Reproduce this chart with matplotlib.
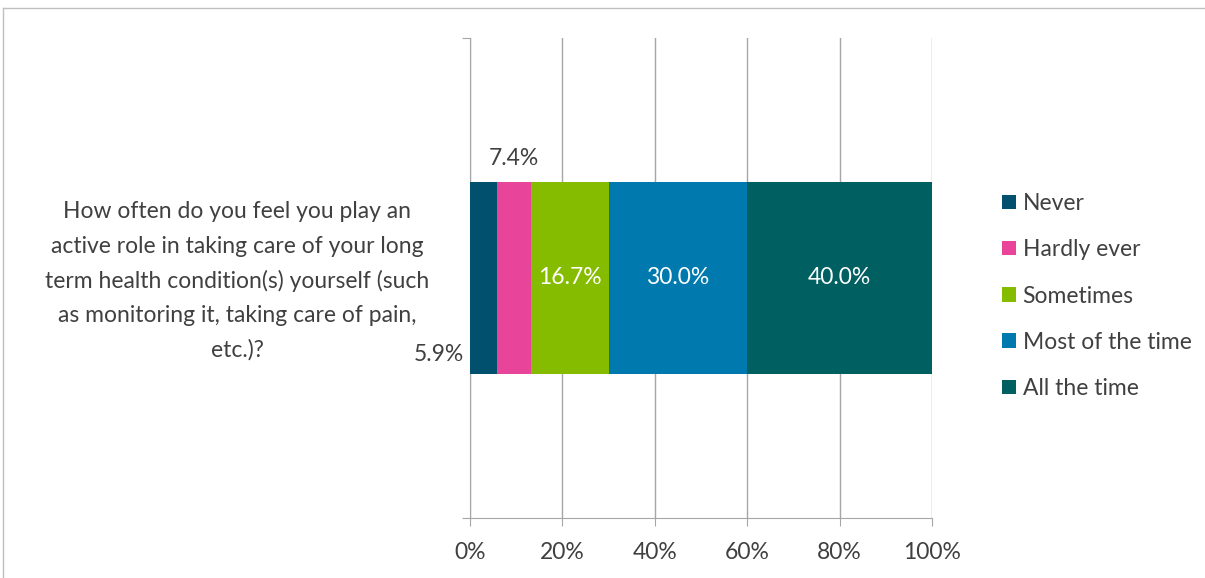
import numpy as np
import matplotlib
matplotlib.use('Agg')
import matplotlib.pyplot as plt
from matplotlib.lines import Line2D
from matplotlib.patches import Patch

plt.rcParams['font.family'] = ['Lato', 'DejaVu Sans']

# data
question_lines = ['How often do you feel you play an',
                  'active role in taking care of your long',
                  'term health condition(s) yourself (such',
                  'as monitoring it, taking care of pain,',
                  'etc.)?']
labels = ['Never', 'Hardly ever', 'Sometimes', 'Most of the time', 'All the time']
values = [5.9, 7.4, 16.7, 30.0, 40.0]
colors = ['#00506E', '#E8449A', '#86BC00', '#007AAE', '#005F60']
ticks = [0, 20, 40, 60, 80, 100]

txt = '#404040'
grid = '#A6A6A6'
fs = 16.5

fig = plt.figure(figsize=(12.05, 5.78), dpi=100)
ax = fig.add_axes([470/1205, 60/578, 462/1205, 480/578])

left = 0
for i, (lab, v, c) in enumerate(zip(labels, values, colors)):
    ax.barh(0, v, left=left, height=0.995, color=c, label=lab, zorder=3)
    mid = left + v/2
    if i == 0:
        # small slice, label outside to the lower left
        ax.text(left - 1.2, -0.4, '%.1f%%' % v, ha='right', va='center', fontsize=fs, color=txt)
    elif i == 1:
        ax.text(mid, 0.62, '%.1f%%' % v, ha='center', va='center', fontsize=fs, color=txt)
    else:
        ax.text(mid, 0, '%.1f%%' % v, ha='center', va='center', fontsize=fs, color='white', zorder=4)
    left += v

ax.set_xlim(0, 100)
ax.set_ylim(-1.25, 1.25)
ax.set_xticks(ticks)
ax.set_xticklabels(['%d%%' % t for t in ticks], fontsize=fs, color=txt)
ax.xaxis.grid(True, color=grid, linewidth=1, zorder=0)
ax.set_yticks([-1.25, 1.25])
ax.set_yticklabels([])
ax.tick_params(axis='x', length=6, color=grid, pad=11)
ax.tick_params(axis='y', length=6, color=grid)
for s in ['top', 'right']:
    ax.spines[s].set_visible(False)
for s in ['left', 'bottom']:
    ax.spines[s].set_color(grid)

# category label, one line at a time (34.5 px apart, centred a bit below the bar centre)
n = len(question_lines)
for k, line in enumerate(question_lines):
    py = 281 + (k - (n - 1) / 2) * 34.5
    ax.text(-233/462, 1 - (py - 38) / 480, line, transform=ax.transAxes,
            ha='center', va='center', fontsize=fs, color=txt)

handles = [Patch(facecolor=c, label=l) for c, l in zip(colors, labels)]
fig.legend(handles=handles, loc='center left', bbox_to_anchor=(1002/1205, 1 - 296/578),
           frameon=False, fontsize=fs, labelcolor=txt, handlelength=0.6, handleheight=0.6,
           handletextpad=0.3, labelspacing=1.1, borderaxespad=0, borderpad=0)

# chart border
fig.add_artist(Line2D([3/1205, 1], [1 - 8/578, 1 - 8/578], color='#BFBFBF', lw=1))
fig.add_artist(Line2D([3/1205, 3/1205], [0, 1 - 8/578], color='#BFBFBF', lw=1))

fig.savefig('out.png', dpi=100)
